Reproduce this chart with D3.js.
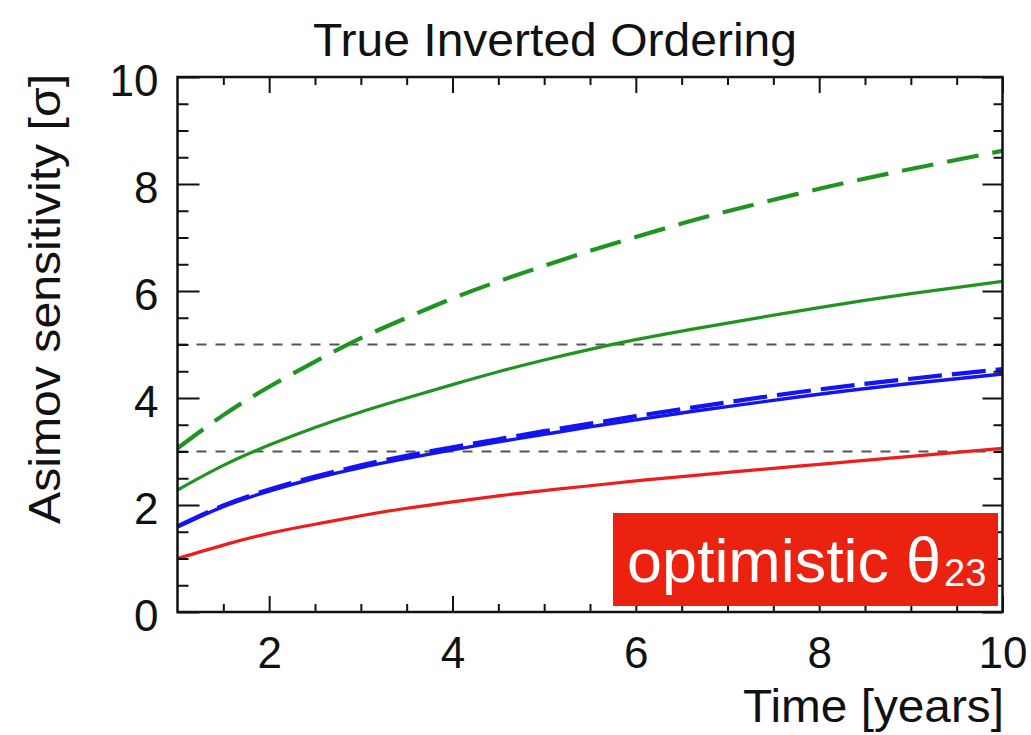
<!DOCTYPE html>
<html>
<head>
<meta charset="utf-8">
<script src="https://cdn.jsdelivr.net/npm/d3@7"></script>
<style>
  html, body { margin: 0; padding: 0; background: #fff; }
  svg { display: block; font-family: "Liberation Sans", Arial, Helvetica, sans-serif; }
</style>
</head>
<body>
<div id="chart"></div>
<script>
const years = [1, 1.5, 2, 2.5, 3, 3.5, 4, 4.5, 5, 5.5, 6, 6.5, 7, 8, 9, 10];

const greenDashed = [3.06, 3.68, 4.21, 4.68, 5.12, 5.50, 5.86, 6.18, 6.47, 6.75, 7.01, 7.26, 7.49, 7.91, 8.28, 8.62];
const greenSolid  = [2.28, 2.74, 3.12, 3.45, 3.74, 4.00, 4.25, 4.49, 4.71, 4.91, 5.09, 5.25, 5.40, 5.69, 5.95, 6.18];
const blueDashed  = [1.60, 1.99, 2.29, 2.53, 2.74, 2.92, 3.08, 3.23, 3.38, 3.52, 3.66, 3.79, 3.92, 4.16, 4.36, 4.54];
const blueSolid   = [1.59, 1.97, 2.26, 2.50, 2.70, 2.87, 3.03, 3.18, 3.32, 3.46, 3.59, 3.72, 3.84, 4.07, 4.27, 4.45];
const redSolid    = [1.00, 1.25, 1.47, 1.64, 1.80, 1.94, 2.06, 2.17, 2.27, 2.36, 2.45, 2.53, 2.61, 2.76, 2.91, 3.06];

const refLevels = [3, 5];

const xMajorTicks = [2, 4, 6, 8, 10];
const yMajorTicks = [0, 2, 4, 6, 8, 10];

const titleText = 'True Inverted Ordering';
const xTitle = 'Time [years]';
const yTitle = 'Asimov sensitivity [\u03c3]';

const W = 1031, H = 735;
const plot = { left: 177.5, right: 1002.5, top: 77, bottom: 612 };

const svg = d3.select('#chart').append('svg')
  .attr('width', W)
  .attr('height', H);

const x = d3.scaleLinear().domain([1, 10]).range([plot.left, plot.right]);
const y = d3.scaleLinear().domain([0, 10]).range([plot.bottom, plot.top]);

const xMinor = d3.range(1.5, 10, 0.5).filter(v => !xMajorTicks.includes(v));
const yMinor = d3.range(0.5, 10, 0.5).filter(v => !yMajorTicks.includes(v));

// reference lines
svg.selectAll('line.ref')
  .data(refLevels)
  .enter().append('line')
  .attr('class', 'ref')
  .attr('x1', x(1)).attr('x2', x(10))
  .attr('y1', d => y(d)).attr('y2', d => y(d))
  .attr('stroke', '#555')
  .attr('stroke-width', 2)
  .attr('stroke-dasharray', '10,9');

// curves
const line = d3.line()
  .x((d, i) => x(years[i]))
  .y(d => y(d))
  .curve(d3.curveNatural);

const series = [
  { values: redSolid, color: '#ee1c1c', width: 3.2, dash: null },
  { values: blueSolid, color: '#1414f0', width: 3.4, dash: null },
  { values: blueDashed, color: '#1414f0', width: 4.2, dash: '34,10' },
  { values: greenSolid, color: '#1f951f', width: 3.2, dash: null },
  { values: greenDashed, color: '#1f951f', width: 4.2, dash: '32,14' }
];

svg.selectAll('path.curve')
  .data(series)
  .enter().append('path')
  .attr('class', 'curve')
  .attr('d', d => line(d.values))
  .attr('fill', 'none')
  .attr('stroke', d => d.color)
  .attr('stroke-width', d => d.width)
  .attr('stroke-dasharray', d => d.dash);

// axes (ticks pointing inward)
const fontSize = 44;

svg.append('g')
  .attr('transform', `translate(0,${plot.bottom})`)
  .call(d3.axisBottom(x).tickValues(xMajorTicks).tickSize(-16).tickSizeOuter(0).tickPadding(25).tickFormat(d3.format('d')));
svg.append('g')
  .attr('transform', `translate(0,${plot.bottom})`)
  .call(d3.axisBottom(x).tickValues(xMinor).tickSize(-8).tickSizeOuter(0).tickFormat(''));
svg.append('g')
  .attr('transform', `translate(0,${plot.top})`)
  .call(d3.axisTop(x).tickValues(xMajorTicks).tickSize(-16).tickSizeOuter(0).tickFormat(''));
svg.append('g')
  .attr('transform', `translate(0,${plot.top})`)
  .call(d3.axisTop(x).tickValues(xMinor).tickSize(-8).tickSizeOuter(0).tickFormat(''));

const gy = svg.append('g')
  .attr('transform', `translate(${plot.left},0)`)
  .call(d3.axisLeft(y).tickValues(yMajorTicks).tickSize(-22).tickSizeOuter(0).tickPadding(19).tickFormat(d3.format('d')));
svg.append('g')
  .attr('transform', `translate(${plot.left},0)`)
  .call(d3.axisLeft(y).tickValues(yMinor).tickSize(-11).tickSizeOuter(0).tickFormat(''));
svg.append('g')
  .attr('transform', `translate(${plot.right},0)`)
  .call(d3.axisRight(y).tickValues(yMajorTicks).tickSize(-20).tickSizeOuter(0).tickFormat(''));
svg.append('g')
  .attr('transform', `translate(${plot.right},0)`)
  .call(d3.axisRight(y).tickValues(yMinor).tickSize(-9).tickSizeOuter(0).tickFormat(''));

svg.selectAll('.domain').remove();
svg.selectAll('.tick line').attr('stroke', '#111').attr('stroke-width', 2);
svg.selectAll('.tick text')
  .attr('fill', '#111')
  .style('font-size', fontSize + 'px')
  .style('font-family', '"Liberation Sans", Arial, sans-serif');
gy.selectAll('.tick text').attr('dy', '0.42em');

// frame
svg.append('rect')
  .attr('x', plot.left).attr('y', plot.top)
  .attr('width', plot.right - plot.left).attr('height', plot.bottom - plot.top)
  .attr('fill', 'none')
  .attr('stroke', '#111')
  .attr('stroke-width', 2.5);

// title and axis titles
svg.append('text')
  .attr('x', 555).attr('y', 56)
  .attr('text-anchor', 'middle')
  .attr('textLength', 484)
  .attr('lengthAdjust', 'spacingAndGlyphs')
  .style('font-size', '46px')
  .attr('fill', '#111')
  .text(titleText);

svg.append('text')
  .attr('x', 1004).attr('y', 722)
  .attr('text-anchor', 'end')
  .attr('textLength', 261)
  .attr('lengthAdjust', 'spacingAndGlyphs')
  .style('font-size', '46px')
  .attr('fill', '#111')
  .text(xTitle);

svg.append('text')
  .attr('transform', 'translate(60,299) rotate(-90)')
  .attr('text-anchor', 'middle')
  .attr('textLength', 450)
  .attr('lengthAdjust', 'spacingAndGlyphs')
  .style('font-size', '45px')
  .attr('fill', '#111')
  .text(yTitle);

// label box
svg.append('rect')
  .attr('x', 613).attr('y', 513)
  .attr('width', 385).attr('height', 93)
  .attr('fill', '#ec2210');

svg.append('text')
  .attr('x', 627).attr('y', 582)
  .attr('fill', '#fff')
  .attr('textLength', 262)
  .attr('lengthAdjust', 'spacingAndGlyphs')
  .style('font-size', '61px')
  .text('optimistic');
svg.append('text')
  .attr('x', 906).attr('y', 582)
  .attr('fill', '#fff')
  .style('font-size', '63px')
  .text('\u03b8');
svg.append('text')
  .attr('x', 944).attr('y', 586)
  .attr('fill', '#fff')
  .style('font-size', '38px')
  .text('23');
</script>
</body>
</html>
